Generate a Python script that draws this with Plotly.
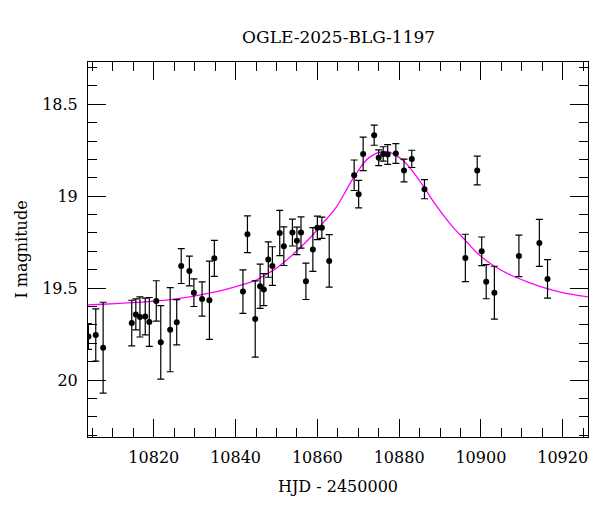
import plotly.graph_objects as go

# Observations (HJD - 2450000, I magnitude, error)
hjd = [10804.0, 10805.8, 10807.6, 10814.6, 10815.6, 10816.6, 10817.9, 10818.9,
       10820.6, 10821.7, 10824.0, 10825.6, 10826.7, 10828.7, 10829.8, 10831.8,
       10833.6, 10834.8, 10841.8, 10842.9, 10844.8, 10846.0, 10846.9, 10848.0,
       10849.0, 10850.8, 10851.8, 10853.9, 10855.0, 10856.0, 10857.2, 10858.9,
       10860.0, 10861.1, 10862.9, 10869.0, 10870.1, 10871.2, 10873.9, 10875.0,
       10876.1, 10877.2, 10879.2, 10881.2, 10883.1, 10886.2, 10896.2, 10899.1,
       10900.2, 10901.3, 10903.3, 10909.3, 10914.3, 10916.3]
mag = [19.763, 19.755, 19.824, 19.690, 19.643, 19.657, 19.654, 19.684,
       19.570, 19.795, 19.726, 19.686, 19.380, 19.407, 19.525, 19.559,
       19.566, 19.338, 19.519, 19.207, 19.668, 19.490, 19.508, 19.345,
       19.380, 19.200, 19.272, 19.198, 19.243, 19.198, 19.463, 19.290,
       19.172, 19.172, 19.352, 18.886, 18.989, 18.770, 18.668, 18.791,
       18.770, 18.773, 18.768, 18.860, 18.797, 18.962, 19.336, 18.860,
       19.300, 19.465, 19.525, 19.325, 19.254, 19.450]
err = [0.07, 0.142, 0.247, 0.124, 0.084, 0.109, 0.100, 0.133,
       0.110, 0.200, 0.229, 0.123, 0.095, 0.081, 0.075, 0.093,
       0.213, 0.098, 0.118, 0.100, 0.207, 0.120, 0.087, 0.096,
       0.105, 0.123, 0.105, 0.073, 0.075, 0.085, 0.099, 0.119,
       0.064, 0.058, 0.143, 0.083, 0.075, 0.091, 0.055, 0.043,
       0.039, 0.054, 0.054, 0.062, 0.047, 0.052, 0.129, 0.078,
       0.078, 0.093, 0.144, 0.113, 0.128, 0.105]

# Model curve
model_t = [10803.5, 10824.1, 10835.1, 10842.0, 10844.9, 10846.1, 10850.2, 10854.3,
           10858.4, 10861.6, 10864.5, 10869.0, 10872.7, 10876.8, 10880.9, 10884.9,
           10889.0, 10893.1, 10896.4, 10899.2, 10903.3, 10907.4, 10911.5, 10915.6,
           10919.7, 10926.4]
model_mag = [19.592, 19.563, 19.521, 19.479, 19.458, 19.443, 19.388, 19.312,
             19.222, 19.140, 19.064, 18.895, 18.789, 18.757, 18.804, 18.913,
             19.049, 19.167, 19.245, 19.312, 19.381, 19.430, 19.467, 19.499,
             19.523, 19.548]

title_text = "OGLE-2025-BLG-1197"
x_title = "HJD - 2450000"
y_title = "I magnitude"

FONT = "DejaVu Serif"

fig = go.Figure()
fig.add_trace(go.Scatter(
    x=model_t, y=model_mag, mode="lines",
    line=dict(color="#ff00ff", width=1.3, shape="spline", smoothing=1.0),
    hoverinfo="skip", showlegend=False))
fig.add_trace(go.Scatter(
    x=hjd, y=mag, mode="markers",
    marker=dict(color="black", size=6),
    error_y=dict(type="data", array=err, visible=True, color="black",
                 thickness=1.2, width=3.5),
    showlegend=False))

axis_common = dict(
    showgrid=False, zeroline=False, showline=True, linecolor="black",
    linewidth=1, mirror="ticks", ticks="inside", ticklen=18, tickwidth=1,
    tickcolor="black", tickfont=dict(family=FONT, size=16, color="black"),
    ticklabelstandoff=6,
)

fig.update_layout(
    width=600, height=512,
    margin=dict(l=80, r=20, t=54, b=83),
    paper_bgcolor="white", plot_bgcolor="white",
    title=dict(text=title_text, x=0.551, xanchor="center", y=0.943, yanchor="middle",
               font=dict(family=FONT, size=17, color="black")),
    xaxis=dict(range=[10803.9, 10926.2], tick0=10820, dtick=20, tickformat="d",
               title=dict(text=x_title, font=dict(family=FONT, size=16, color="black"),
                          standoff=14),
               minor=dict(dtick=5, ticks="inside", ticklen=9, tickcolor="black"),
               **axis_common),
    yaxis=dict(range=[20.31, 18.27], tick0=18.5, dtick=0.5,
               title=dict(text=y_title, font=dict(family=FONT, size=16, color="black"),
                          standoff=10),
               minor=dict(dtick=0.1, ticks="inside", ticklen=9, tickcolor="black"),
               **axis_common),
)

fig.write_html("out.html")
